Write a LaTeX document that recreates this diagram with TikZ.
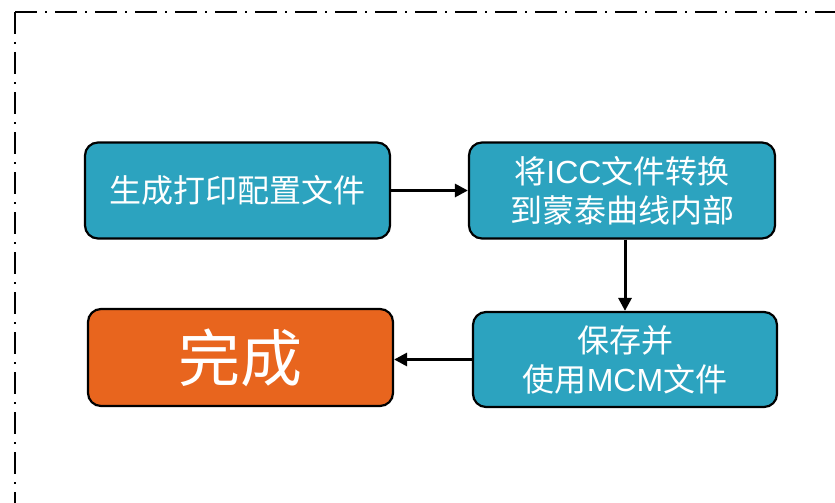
\documentclass[tikz,border=0pt]{standalone}
\usepackage{fontspec}
\setmainfont{Liberation Sans}
\newfontfamily\cjk{Noto Sans CJK SC}
\usetikzlibrary{arrows.meta}
\definecolor{boxblue}{RGB}{44,163,191}
\definecolor{boxorange}{RGB}{232,101,30}
\tikzset{
  stepbox/.style={draw=black, line width=2.2pt, rounded corners=13pt, fill=boxblue,
    text=white, align=center, inner sep=0pt, font=\fontsize{32}{39}\selectfont},
  donebox/.style={stepbox, fill=boxorange, font=\fontsize{62}{64}\selectfont},
  flow/.style={line width=3pt, -{Triangle[length=13pt,width=13pt]}},
  frame/.style={line width=2pt, dash pattern=on 22pt off 8pt on 2pt off 8pt}
}
\begin{document}
\begin{tikzpicture}[x=1pt,y=1pt]
\useasboundingbox (0,0) rectangle (835,-503);
\begin{scope}
\clip (0,0) rectangle (835,-503);
\coordinate (c0) at (15,-12);
\coordinate (cb) at (15,-530);
\coordinate (cr) at (860,-12);
\draw[frame] (c0) -- (cb);
\draw[frame] (c0) -- (cr);
\end{scope}
\node[stepbox, minimum width=305pt, minimum height=96pt] (n1) at (237.5,-190.5) {\cjk 生成打印配置文件};
\node[stepbox, minimum width=306pt, minimum height=96pt] (n2) at (622,-190.5) {{\cjk 将}ICC{\cjk 文件转换}\\{\cjk 到蒙泰曲线内部}};
\node[stepbox, minimum width=304pt, minimum height=95pt] (n3) at (625,-359.5) {{\cjk 保存并}\\{\cjk 使用}MCM{\cjk 文件}};
\node[donebox, minimum width=305pt, minimum height=97pt] (n4) at (240.5,-357.5) {\cjk 完成};
\draw[flow] (n1.east) -- (n2.west);
\draw[flow] (n2.south -| n3.north) -- (n3.north);
\draw[flow] (n3.west) -- (n3.west -| n4.east);
\end{tikzpicture}
\end{document}
